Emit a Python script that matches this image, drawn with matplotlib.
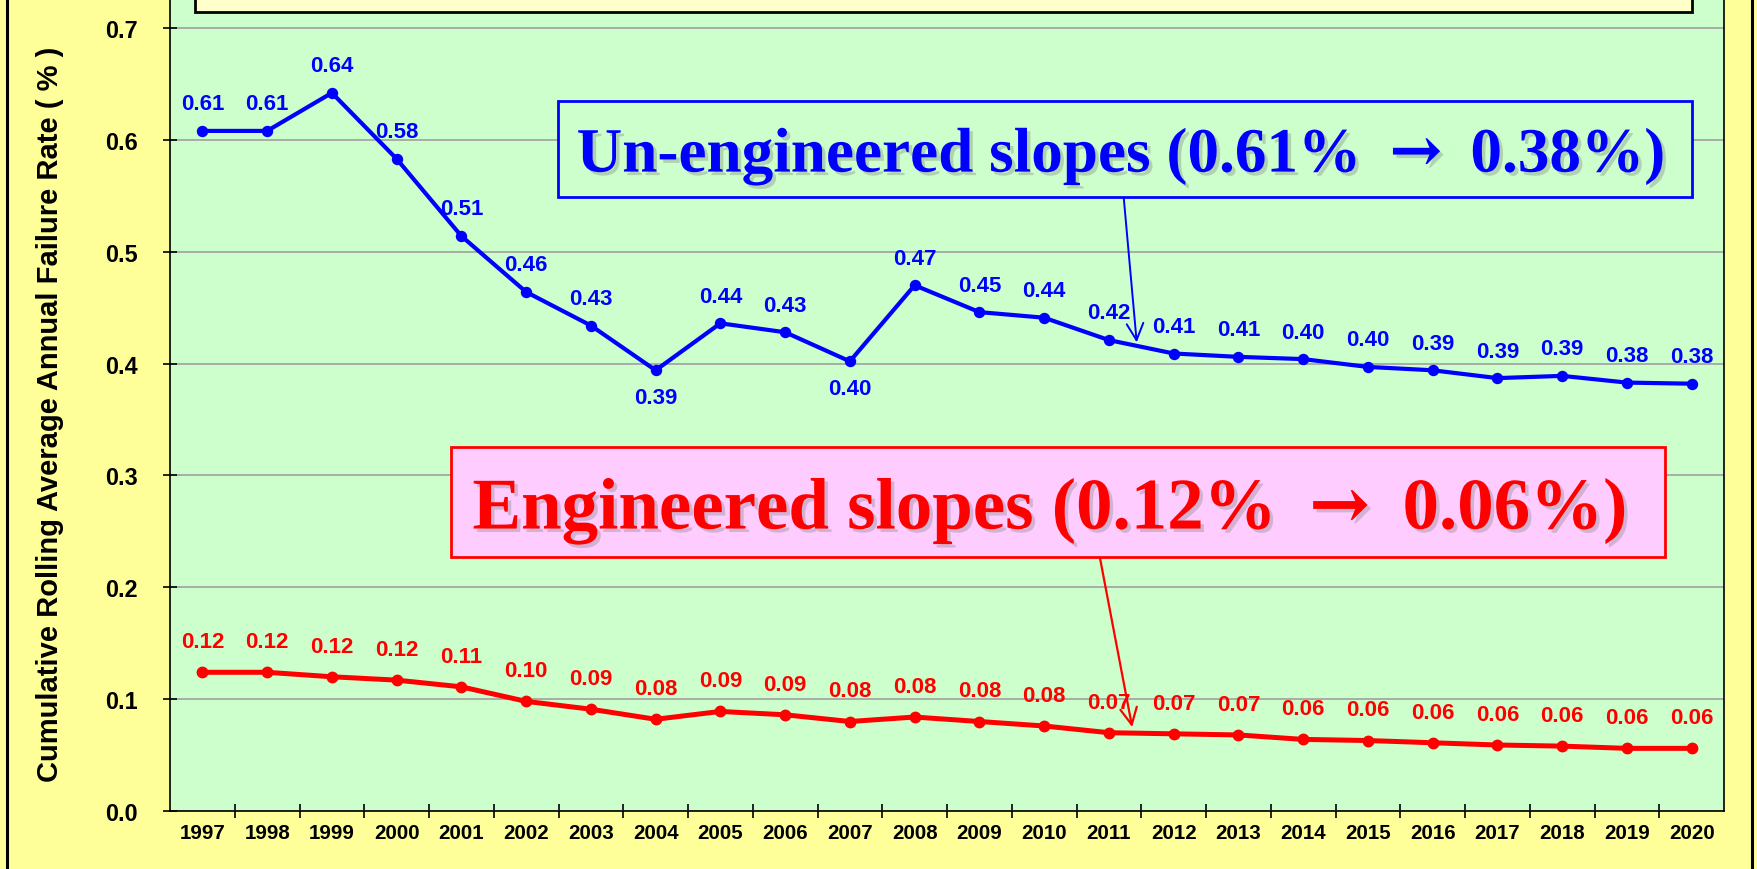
"""Cumulative rolling average annual failure rate of slopes, 1997-2020."""

import matplotlib.patheffects as pe
import matplotlib.pyplot as plt
from matplotlib.patches import Rectangle

# ---- data -------------------------------------------------------------
years = list(range(1997, 2021))

unengineered = [0.608, 0.608, 0.642, 0.583, 0.514, 0.464, 0.434, 0.394,
                0.436, 0.428, 0.402, 0.470, 0.446, 0.441, 0.421, 0.409,
                0.406, 0.404, 0.397, 0.394, 0.387, 0.389, 0.383, 0.382]

engineered = [0.124, 0.124, 0.120, 0.117, 0.111, 0.098, 0.091, 0.082,
              0.089, 0.086, 0.080, 0.084, 0.080, 0.076, 0.070, 0.069,
              0.068, 0.064, 0.063, 0.061, 0.059, 0.058, 0.056, 0.056]

# years whose un-engineered label sits under the point
below_years = [2004, 2007]

ylabel = "Cumulative Rolling Average Annual Failure Rate ( % )"
blue_note = r"Un-engineered slopes (0.61% $\rightarrow$ 0.38%)"
red_note = r"Engineered slopes (0.12% $\rightarrow$ 0.06%)"

# ---- style ------------------------------------------------------------
W, H = 1757, 870
FIG_BG = "#FFFF99"
AX_BG = "#CCFFCC"
BLUE = "#0000FF"
RED = "#FF0000"
SANS = ["Liberation Sans", "DejaVu Sans"]
SERIF = ["Liberation Serif", "DejaVu Serif", "DejaVu Sans"]

plt.rcParams["font.family"] = SANS
# the arrow inside the notes comes from mathtext: a wide bold serif arrow
plt.rcParams["mathtext.fontset"] = "custom"
plt.rcParams["mathtext.rm"] = "DejaVu Serif:bold"
plt.rcParams["mathtext.default"] = "rm"

fig = plt.figure(figsize=(W / 100, H / 100), dpi=100, facecolor=FIG_BG)
ax = fig.add_axes([170 / W, (H - 812) / H, (1724 - 170) / W, 812 / H])
ax.set_facecolor(AX_BG)

x = list(range(len(years)))

ax.plot(x, unengineered, color=BLUE, lw=3.0, marker="o", ms=7.2,
        solid_joinstyle="round", zorder=3)
ax.plot(x, engineered, color=RED, lw=3.6, marker="o", ms=7.5,
        solid_joinstyle="round", zorder=3)

for xi, yr, v in zip(x, years, unengineered):
    dy = -19.5 if yr in below_years else 19.5
    ax.annotate(f"{v:.2f}", (xi, v), xytext=(0, dy), textcoords="offset points",
                ha="center", va="center", color=BLUE, fontsize=16,
                fontweight="bold", zorder=4)

for xi, v in zip(x, engineered):
    ax.annotate(f"{v:.2f}", (xi, v), xytext=(0, 22), textcoords="offset points",
                ha="center", va="center", color=RED, fontsize=16,
                fontweight="bold", zorder=4)

# ---- axes -------------------------------------------------------------
ax.set_xlim(-0.5, len(years) - 0.5)
ax.set_ylim(0, 0.7 + 29 / 1118.6)
ax.set_yticks([i / 10 for i in range(8)])
ax.set_yticklabels([f"{i / 10:.1f}" for i in range(8)])
ax.tick_params(axis="y", direction="inout", length=10, width=1.2, pad=18,
               labelsize=16.8)
for lab in ax.get_yticklabels():
    lab.set_fontweight("bold")

ax.set_xticks(x)
ax.set_xticklabels([str(y) for y in years], fontweight="bold")
ax.tick_params(axis="x", length=0, pad=9, labelsize=14.8)
ax.set_xticks([i + 0.5 for i in range(len(years) - 1)], minor=True)
ax.tick_params(axis="x", which="minor", direction="inout", length=10, width=1.2)

ax.grid(axis="y", color="#A6A6A6", lw=1.3, zorder=1)
ax.set_axisbelow(True)
for s in ax.spines.values():
    s.set_color("black")
    s.set_linewidth(1.2)

ax.text((50 - 170) / 1554, (812 - 414) / 812, ylabel, transform=ax.transAxes,
        rotation=90, ha="center", va="center", fontsize=21, fontweight="bold")

# ---- boxes and notes (figure pixels) -----------------------------------
def fig_box(x0, y0, x1, y1, face, edge, lw=2.0, z=5):
    r = Rectangle((x0 / W, 1 - y1 / H), (x1 - x0) / W, (y1 - y0) / H,
                  transform=fig.transFigure, facecolor=face, edgecolor=edge,
                  lw=lw, clip_on=False, zorder=z)
    ax.add_patch(r)


shadow = [pe.SimplePatchShadow(offset=(2.5, -2.5), shadow_rgbFace="#808080",
                               alpha=0.35), pe.Normal()]

# title box, cut off at the top of the picture
fig_box(195, -60, 1692, 13, "#FFFFCC", "black", lw=2.0)

fig_box(558, 102, 1692, 198, AX_BG, BLUE, lw=2.0)
ax.text(1121 / W, 1 - 173 / H, blue_note, transform=fig.transFigure,
        ha="center", va="baseline", color=BLUE, fontsize=45.5,
        fontweight="bold", family=SERIF, path_effects=shadow, zorder=6)

fig_box(451, 448, 1665, 558, "#FFCCFF", RED, lw=2.0)
ax.text(1049 / W, 1 - 530 / H, red_note, transform=fig.transFigure,
        ha="center", va="baseline", color=RED, fontsize=52.5,
        fontweight="bold", family=SERIF, path_effects=shadow, zorder=6)

# leader arrows from the notes onto the lines
ax.annotate("", xy=(14.43, 0.419), xytext=(14.23, 0.548),
            arrowprops=dict(arrowstyle="->,head_length=0.6,head_width=0.3",
                            color=BLUE, lw=1.4, mutation_scale=20,
                            shrinkA=0, shrinkB=0), zorder=4)
ax.annotate("", xy=(14.36, 0.075), xytext=(13.86, 0.227),
            arrowprops=dict(arrowstyle="->,head_length=0.6,head_width=0.3",
                            color=RED, lw=1.6, mutation_scale=20,
                            shrinkA=0, shrinkB=0), zorder=4)

# outer frame of the slide
fig.add_artist(Rectangle((7 / W, -0.05), (1752 - 7) / W, 1.1,
                         transform=fig.transFigure, facecolor="none",
                         edgecolor="black", lw=2.2))

fig.savefig("out.png", dpi=100, facecolor=FIG_BG)
